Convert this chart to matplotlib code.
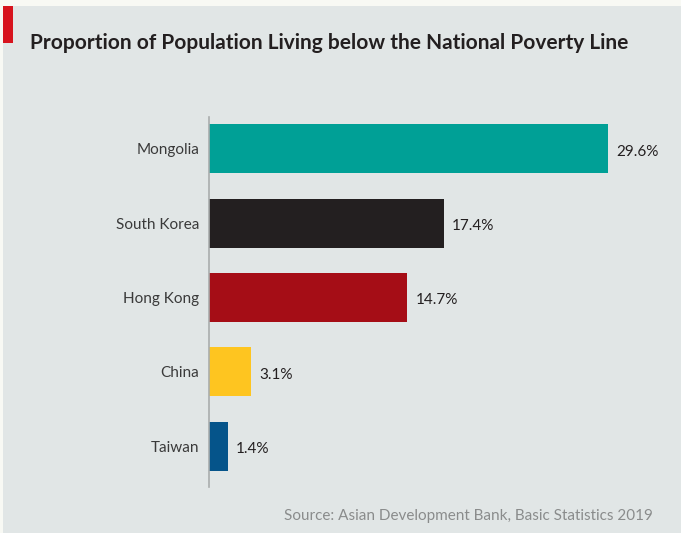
import matplotlib
matplotlib.use("Agg")
import matplotlib.pyplot as plt
from matplotlib.patches import Rectangle

categories = ["Mongolia", "South Korea", "Hong Kong", "China", "Taiwan"]
values = [29.6, 17.4, 14.7, 3.1, 1.4]
colors = ["#00a096", "#231f20", "#a50d16", "#fec520", "#05548a"]
title = "Proportion of Population Living below the National Poverty Line"
source = "Source: Asian Development Bank, Basic Statistics 2019"

plt.rcParams['font.family'] = ['Lato', 'DejaVu Sans']

W, H = 681, 533
fig = plt.figure(figsize=(W/100, H/100), dpi=100)
fig.patch.set_facecolor("#f8f9f4")
# gray panel
fig.add_artist(Rectangle((3/W, 0), 1, 1 - 6/H, transform=fig.transFigure,
                         facecolor="#e1e6e6", edgecolor="none", zorder=0))
# red marker
fig.add_artist(Rectangle((3/W, 1 - 43/H), 10/W, 37/H, transform=fig.transFigure,
                         facecolor="#d7141e", edgecolor="none", zorder=1))
fig.text(30/W, 1 - 43/H, title, fontsize=15, fontweight="bold", color="#231f20",
         ha="left", va="center")

ax = fig.add_axes([209/W, 1 - 487/H, (W - 209)/W, (487 - 117)/H])
ax.set_facecolor("none")
n = len(categories)
ypos = list(range(n - 1, -1, -1))
bars = ax.barh(ypos, values, height=0.66, color=colors)
ax.set_xlim(0, 35.0)
ax.set_ylim(-0.55, n - 1 + 0.43)
ax.set_yticks(ypos)
ax.set_yticklabels(categories, fontsize=11, color="#3a3a3a")
ax.tick_params(axis="y", length=0, pad=7)
ax.set_xticks([])
for s in ["top", "right", "bottom"]:
    ax.spines[s].set_visible(False)
ax.spines["left"].set_color("#a9adad")
ax.spines["left"].set_linewidth(1.2)
for b, v in zip(bars, values):
    ax.annotate(f"{v}%", xy=(b.get_width(), b.get_y() + b.get_height()/2),
                xytext=(6, -2), textcoords="offset points", ha="left", va="center",
                fontsize=11, color="#231f20")

fig.text(653/W, 1 - 516/H, source, fontsize=11, color="#8a8c8c", ha="right", va="center")

fig.savefig("out.png", dpi=100, facecolor=fig.get_facecolor())
